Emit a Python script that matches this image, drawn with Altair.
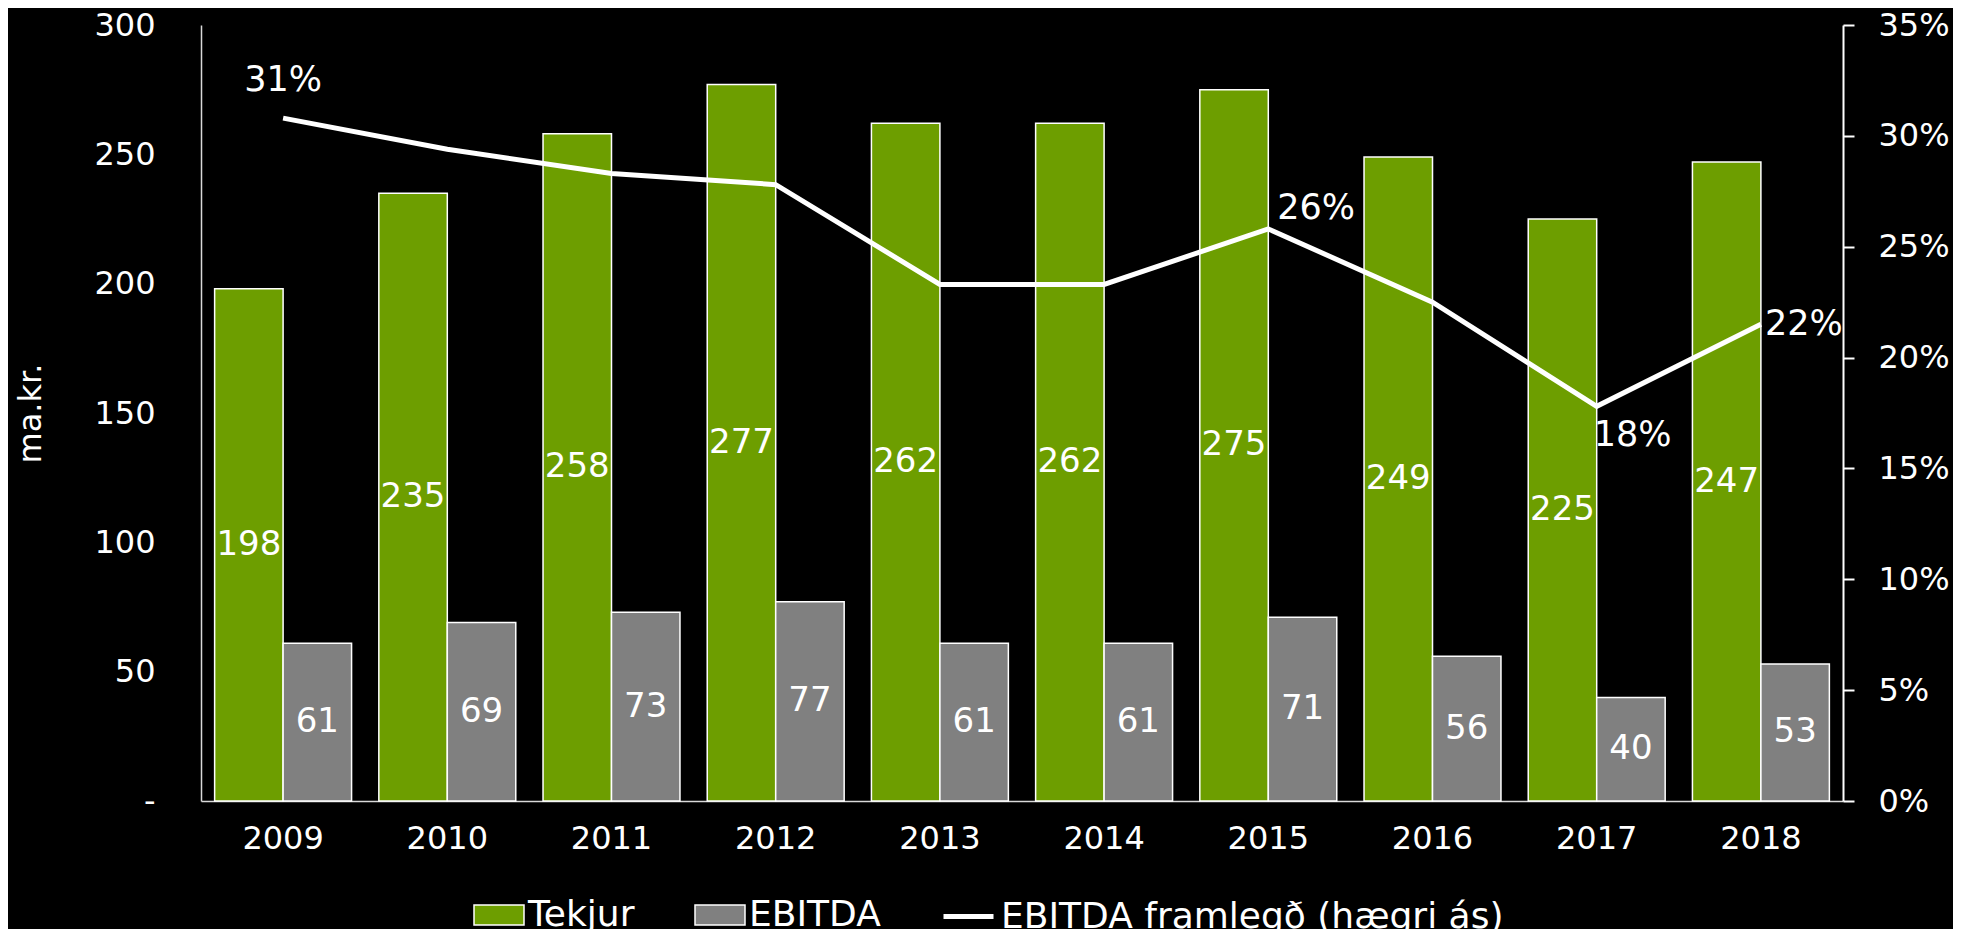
import altair as alt
import pandas as pd

# ---------------- data ----------------
years = ["2009", "2010", "2011", "2012", "2013", "2014", "2015", "2016", "2017", "2018"]
tekjur = [198, 235, 258, 277, 262, 262, 275, 249, 225, 247]
ebitda = [61, 69, 73, 77, 61, 61, 71, 56, 40, 53]
margin = [30.8, 29.4, 28.3, 27.8, 23.3, 23.3, 25.8, 22.5, 17.8, 21.5]  # EBITDA framlegð, %

label_years = ["2009", "2015", "2017", "2018"]
label_texts = ["31%", "26%", "18%", "22%"]

series_names = ["Tekjur", "EBITDA"]
line_name = "EBITDA framlegð (hægri ás)"
left_ticks = [0, 50, 100, 150, 200, 250, 300]
right_ticks = [0, 5, 10, 15, 20, 25, 30, 35]

# ---------------- styles ----------------
FONT = "DejaVu Sans"
GREEN = "#6D9E00"
GREY = "#808080"
WHITE = "#FFFFFF"
# (dx, dy, align) for the margin labels, in order of label_years
label_place = [(0, -38, "center"), (9, -21, "left"), (-3, 29, "left"), (4, 0, "left")]

bar_df = pd.DataFrame({
    "year": years * 2,
    "series": [series_names[0]] * len(years) + [series_names[1]] * len(years),
    "value": tekjur + ebitda,
})
line_df = pd.DataFrame({"year": years, "margin": margin, "series": [line_name] * len(years)})
lab_df = pd.DataFrame({"year": label_years, "text": label_texts}).merge(line_df, on="year")

x_enc = alt.X(
    "year:N",
    sort=years,
    scale=alt.Scale(paddingInner=0.166, paddingOuter=0.083),
    axis=alt.Axis(
        title=None, labelAngle=0, ticks=False, tickSize=0, labelPadding=22,
        domainColor="#d9d9d9", domainWidth=1.5, labelFontSize=32,
    ),
)
x_plain = alt.X("year:N", sort=years)
xoff = alt.XOffset(
    "series:N", sort=series_names,
    scale=alt.Scale(domain=series_names, paddingInner=0, paddingOuter=0),
)

legend_shape = "M-1,-0.4H1V0.4H-1Z"
bar_legend = alt.Legend(
    title=None, orient="none", legendX=272, legendY=864, direction="horizontal",
    labelColor=WHITE, labelFont=FONT, labelFontSize=36, labelOffset=3, columnPadding=57,
    labelLimit=1000,
    symbolSize=2500, symbolType=legend_shape, symbolStrokeColor=WHITE,
    symbolStrokeWidth=1.5, symbolOpacity=1,
)
line_legend = alt.Legend(
    title=None, orient="none", legendX=740, legendY=864, direction="horizontal",
    labelColor=WHITE, labelFont=FONT, labelFontSize=36, labelOffset=5,
    labelLimit=1000,
    symbolSize=2500, symbolType="stroke", symbolStrokeColor=WHITE,
    symbolStrokeWidth=5, symbolOpacity=1,
)

left_scale = alt.Scale(domain=[0, 300])
right_scale = alt.Scale(domain=[0, 35])

bars = alt.Chart(bar_df).mark_bar(stroke=WHITE, strokeWidth=1.5).encode(
    x=x_enc,
    xOffset=xoff,
    y=alt.Y(
        "value:Q",
        scale=left_scale,
        axis=alt.Axis(
            orient="left", title="ma.kr.", values=left_ticks, ticks=False, labelPadding=46,
            labelExpr="datum.value === 0 ? '-' : datum.label",
            domainColor="#d9d9d9", domainWidth=1.5, labelFontSize=32, labelColor=WHITE,
            titleFontSize=32, titleFontWeight="normal", titleColor=WHITE, titleFont=FONT,
            titlePadding=46,
        ),
    ),
    color=alt.Color("series:N", scale=alt.Scale(domain=series_names, range=[GREEN, GREY]), legend=bar_legend),
)

bar_text = alt.Chart(bar_df).transform_calculate(mid="datum.value / 2").mark_text(
    color=WHITE, font=FONT, fontSize=34, baseline="middle", align="center"
).encode(
    x=x_plain,
    xOffset=xoff,
    y=alt.Y("mid:Q", scale=left_scale, axis=None),
    text=alt.Text("value:Q"),
)

line = alt.Chart(line_df).mark_line(strokeWidth=5).encode(
    x=x_plain,
    y=alt.Y(
        "margin:Q",
        scale=right_scale,
        axis=alt.Axis(
            orient="right", title=None, values=right_ticks, labelExpr="datum.value + '%'",
            domainColor=WHITE, domainWidth=2, tickColor=WHITE, tickWidth=2, tickSize=11,
            labelPadding=24, labelFontSize=32, labelColor=WHITE,
        ),
    ),
    stroke=alt.Stroke("series:N", scale=alt.Scale(domain=[line_name], range=[WHITE]), legend=line_legend),
)

label_layers = []
for yr, (dx, dy, al) in zip(label_years, label_place):
    label_layers.append(
        alt.Chart(lab_df).transform_filter(alt.datum.year == yr).mark_text(
            color=WHITE, font=FONT, fontSize=35, dx=dx, dy=dy, align=al, baseline="middle"
        ).encode(
            x=x_plain,
            y=alt.Y("margin:Q", scale=right_scale, axis=None),
            text="text:N",
        )
    )

chart = alt.layer(bars, bar_text, line, *label_layers).resolve_scale(y="independent").properties(
    width=1642,
    height=776,
    autosize=alt.AutoSizeParams(type="none"),
    padding={"left": 193, "top": 17, "right": 110, "bottom": 128},
    background="black",
).configure_view(stroke=None).configure_axis(
    grid=False, labelColor=WHITE, labelFont=FONT, titleColor=WHITE,
).configure_text(font=FONT)

chart.save("out.html", embed_options={"renderer": "svg", "actions": False})
